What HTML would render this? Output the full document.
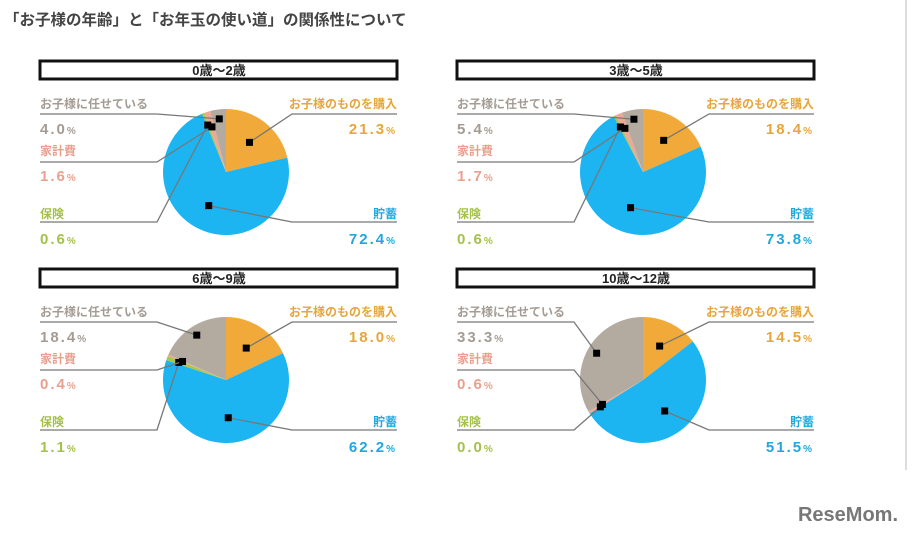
<!DOCTYPE html>
<html><head><meta charset="utf-8"><style>
body{margin:0;width:913px;height:535px;background:#fff;font-family:"Liberation Sans","Noto Sans CJK JP",sans-serif;overflow:hidden}
</style></head><body>
<svg id="c" width="913" height="535" xmlns="http://www.w3.org/2000/svg">
<text x="4" y="25" font-size="15.5" font-weight="bold" fill="#444" font-family="Liberation Sans, Noto Sans CJK JP, sans-serif">「お子様の年齢」と「お年玉の使い道」の関係性について</text>
<line x1="906" y1="0" x2="906" y2="470" stroke="#ddd" stroke-width="2"/>
<text x="898" y="521" font-size="20" font-weight="bold" fill="#777" text-anchor="end" font-family="Liberation Sans, sans-serif">ReseMom.</text>
</svg>
<script>
const panels = ["0歳〜2歳","3歳〜5歳","6歳〜9歳","10歳〜12歳"];
const categories = ["お子様のものを購入","貯蓄","保険","家計費","お子様に任せている"];
const valPurchase = [21.3,18.4,18.0,14.5];
const valSavings = [72.4,73.8,62.2,51.5];
const valInsurance = [0.6,0.6,1.1,0.0];
const valHousehold = [1.6,1.7,0.4,0.6];
const valChild = [4.0,5.4,18.4,33.3];
const colors = ["#f1aa3a","#1cb5f1","#a8c84c","#f0a896","#b3aaa0"];
const textColors = ["#e6a63a","#1ea8de","#a6c04c","#e9a08e","#a49c94"];
const svg = document.getElementById('c');
const NS = "http://www.w3.org/2000/svg";
function mk(tag, attrs, parent){const e=document.createElementNS(NS,tag);for(const k in attrs)e.setAttribute(k,attrs[k]);(parent||svg).appendChild(e);return e;}
const FONT = "Liberation Sans, Noto Sans CJK JP, sans-serif";
panels.forEach((title,p)=>{
  const ox = (p%2)*417, oy = Math.floor(p/2)*208;
  const g = mk('g',{});
  
  
  const hb = mk('rect',{x:40+ox,y:61+oy,width:357,height:18,fill:'#fff',stroke:'#111','stroke-width':3},g);
  
  
  const ht = mk('text',{x:219+ox,y:75+oy,'font-size':13,'font-weight':'bold',fill:'#222','text-anchor':'middle','font-family':FONT},g);
  ht.textContent = title;
  
  
  const vals = [valPurchase[p],valSavings[p],valInsurance[p],valHousehold[p],valChild[p]];
  const total = vals.reduce((a,b)=>a+b,0);
  const cx=226+ox, cy=172+oy, r=63;
  let a0 = -Math.PI/2;
  const mids=[];
  vals.forEach((v,i)=>{
    const a1 = a0 + v/total*2*Math.PI;
    mids.push((a0+a1)/2);
    if(v>0){
      const large = (a1-a0)>Math.PI?1:0;
      const d = `M${cx},${cy} L${cx+r*Math.cos(a0)},${cy+r*Math.sin(a0)} A${r},${r} 0 ${large} 1 ${cx+r*Math.cos(a1)},${cy+r*Math.sin(a1)} Z`;
      const s = mk('path',{d,fill:colors[i]},g);
      
      
    }
    a0=a1;
  });
  const pos = [["r",108,114],["r",218,222],["l",218,222],["l",155,162],["l",108,114]];
  const mr = [0.6,0.6,0.8,0.75,0.85];
  categories.forEach((cat,i)=>{
    const [side,ly,lny]=pos[i];
    const x = side==="r"?397+ox:40+ox;
    const anchor = side==="r"?"end":"start";
    const t = mk('text',{x,y:ly+oy,'font-size':12,'font-weight':'bold',fill:textColors[i],'text-anchor':anchor,'font-family':FONT},g);
    t.textContent = cat;
    
    
    const vt = mk('text',{x,y:ly+oy+26,'font-size':15,'font-weight':'bold',fill:textColors[i],'text-anchor':anchor,'font-family':FONT,'letter-spacing':2},g);
    vt.innerHTML = vals[i].toFixed(1)+'<tspan font-size="10">%</tspan>';
    
    
    const mx = cx + r*mr[i]*Math.cos(mids[i]), my = cy + r*mr[i]*Math.sin(mids[i]);
    const ex = side==="r"?292+ox:157+ox;
    const sx = side==="r"?397+ox:40+ox;
    const ln = mk('polyline',{points:`${sx},${lny+oy} ${ex},${lny+oy} ${mx},${my}`,fill:'none',stroke:'#777','stroke-width':1.3},g);
    
    
    const m = mk('rect',{x:mx-3.5,y:my-3.5,width:7,height:7,fill:'#000'},g);
    
    
  });
});
</script>
</body></html>
